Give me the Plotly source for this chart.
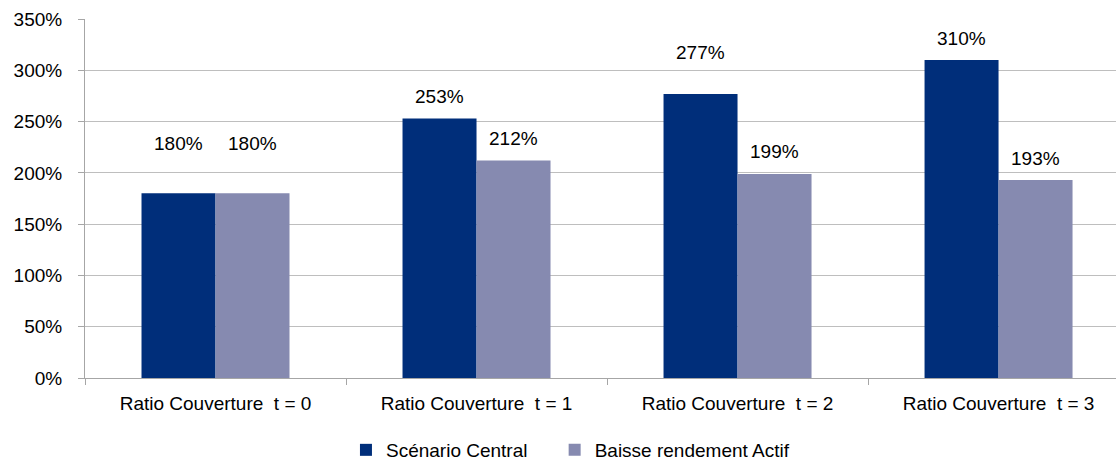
import plotly.graph_objects as go

# Coverage ratio by horizon, two scenarios (values in %)
categories = ["Ratio Couverture\u00a0 t = 0", "Ratio Couverture\u00a0 t = 1",
              "Ratio Couverture\u00a0 t = 2", "Ratio Couverture\u00a0 t = 3"]
central = [180, 253, 277, 310]
baisse = [180, 212, 199, 193]
series_names = ["Scénario Central", "Baisse rendement Actif"]
y_ticks = [0, 50, 100, 150, 200, 250, 300, 350]
y_tick_labels = [f"{t}%" for t in y_ticks]

colors = ["#002E7A", "#868AB0"]
FONT = "Liberation Sans, Arial, sans-serif"
FS = 19

fig = go.Figure()
for name, vals, col, lg in zip(series_names, [central, baisse], colors, ["legend", "legend2"]):
    fig.add_trace(go.Bar(
        name=name, x=categories, y=vals, marker=dict(color=col, line=dict(width=0)),
        offsetgroup=name, legend=lg,
    ))

# value labels above each bar; a few sit higher than the rest
label_shift = {(0, 0): 50, (0, 1): 50, (2, 0): 41}
for si, vals in enumerate([central, baisse]):
    for ci, v in enumerate(vals):
        fig.add_annotation(
            x=ci + (-0.1418 if si == 0 else 0.1418), y=v, xref="x", yref="y",
            text=f"{v}%", showarrow=False, yanchor="middle",
            yshift=label_shift.get((ci, si), 22),
            font=dict(family=FONT, size=FS, color="#000000"),
        )

legend_style = dict(orientation="h", xanchor="left", xref="container",
                    y=0.026, yref="container", yanchor="middle",
                    font=dict(family=FONT, size=FS), itemsizing="constant",
                    itemwidth=30, bgcolor="rgba(0,0,0,0)")

fig.update_layout(
    width=1116, height=462,
    margin=dict(l=85, r=0, t=19, b=84, autoexpand=False),
    paper_bgcolor="white", plot_bgcolor="white",
    barmode="group", bargap=0.433, bargroupgap=0,
    font=dict(family=FONT, size=FS, color="#000000"),
    showlegend=True,
    legend=dict(x=0.310, **legend_style),
    legend2=dict(x=0.497, **legend_style),
)
fig.update_xaxes(
    type="category", range=[-0.5, 3.45], automargin=False,
    showline=True, linecolor="#A6A6A6", linewidth=1,
    ticks="outside", tickson="boundaries", ticklen=6, tickcolor="#A6A6A6",
    showgrid=False, tickfont=dict(family=FONT, size=FS),
    ticklabelstandoff=8,
)
fig.update_yaxes(
    range=[0, 350], tickmode="array", tickvals=y_ticks, ticktext=y_tick_labels,
    automargin=False,
    showline=True, linecolor="#A6A6A6", linewidth=1,
    ticks="outside", ticklen=6, tickcolor="#A6A6A6",
    showgrid=True, gridcolor="#BEBEBE", gridwidth=1,
    zeroline=False, tickfont=dict(family=FONT, size=FS),
    ticklabelstandoff=12,
)

fig.write_html("out.html")
